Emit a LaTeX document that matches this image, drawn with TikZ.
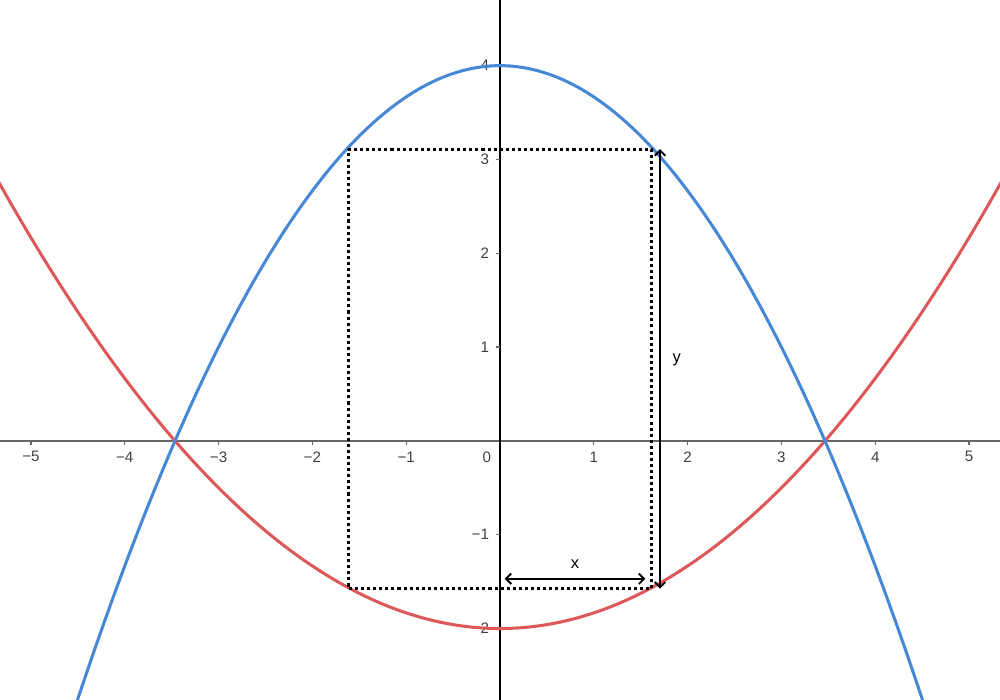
\documentclass[tikz,border=0pt]{standalone}
\usepackage{fontspec}
\setmainfont{Liberation Sans}
\usetikzlibrary{arrows.meta,positioning,calc}
\definecolor{ggblue}{RGB}{70,136,214}
\definecolor{ggred}{RGB}{221,88,88}
\tikzstyle{curve} = [line width=2.3pt, smooth, samples=120]
\tikzstyle{axisline} = [line width=1pt]
\tikzstyle{ticklabel} = [font=\fontsize{11.5}{13}\selectfont, text=black!75, inner sep=0pt]
\tikzstyle{dim} = [line width=1.4pt, {Straight Barb[length=4pt,width=8pt]}-{Straight Barb[length=4pt,width=8pt]}]
\tikzstyle{box} = [line width=2.3pt, dash pattern=on 2.3pt off 2.3pt]

\begin{document}
\begin{tikzpicture}[x=2.5cm, y=2.5cm]
    \useasboundingbox (-5.33,-2.76) rectangle (5.33,4.70);
    \clip (-5.33,-2.76) rectangle (5.33,4.70);
    % axes
    \draw[axisline, black!60] (-5.33,0) -- (5.33,0);
    \draw[axisline, black] (0,-2.76) -- (0,4.70);
    \foreach \k/\t in {-5/−5,-4/−4,-3/−3,-2/−2,-1/−1,1/1,2/2,3/3,4/4,5/5} {
        \draw[axisline, black!60] (\k,0) -- (\k,-0.04);
        \node[ticklabel] (xl\k) at (\k,-0.17) {\t};
    }
    \node[ticklabel] (xl0) at (-0.14,-0.17) {0};
    \foreach \k/\t in {-2/−2,-1/−1,1/1,2/2,3/3,4/4} {
        \draw[axisline, black!60] (0,\k) -- (-0.04,\k);
        \node[ticklabel, anchor=east] (yl\k) at (-0.115,\k) {\t};
    }
    % curves
    \draw[curve, ggred, domain=-5.4:5.4] plot (\x, {\x*\x/6-2});
    \draw[curve, ggblue, domain=-5.4:5.4] plot (\x, {4-\x*\x/3});
    % rectangle
    \coordinate (tl) at (-1.62,3.11);
    \coordinate (tr) at (1.62,3.11);
    \coordinate (br) at (1.62,-1.575);
    \coordinate (bl) at (-1.62,-1.575);
    \draw[box] (tl) -- (tr) -- (br) -- (bl) -- cycle;
    % dimensions
    \coordinate (xa) at (0.05,-1.47);
    \coordinate (xb) at (1.55,-1.47);
    \coordinate (ya) at (1.706,3.11);
    \coordinate (yb) at (1.706,-1.575);
    \draw[dim] (xa) -- node[above=4pt, font=\fontsize{12.5}{14}\selectfont] (xlab) {x} (xb);
    \draw[dim] (ya) -- node[right=5.5pt, pos=0.479, font=\fontsize{12.5}{14}\selectfont] (ylab) {y} (yb);
\end{tikzpicture}
\end{document}
